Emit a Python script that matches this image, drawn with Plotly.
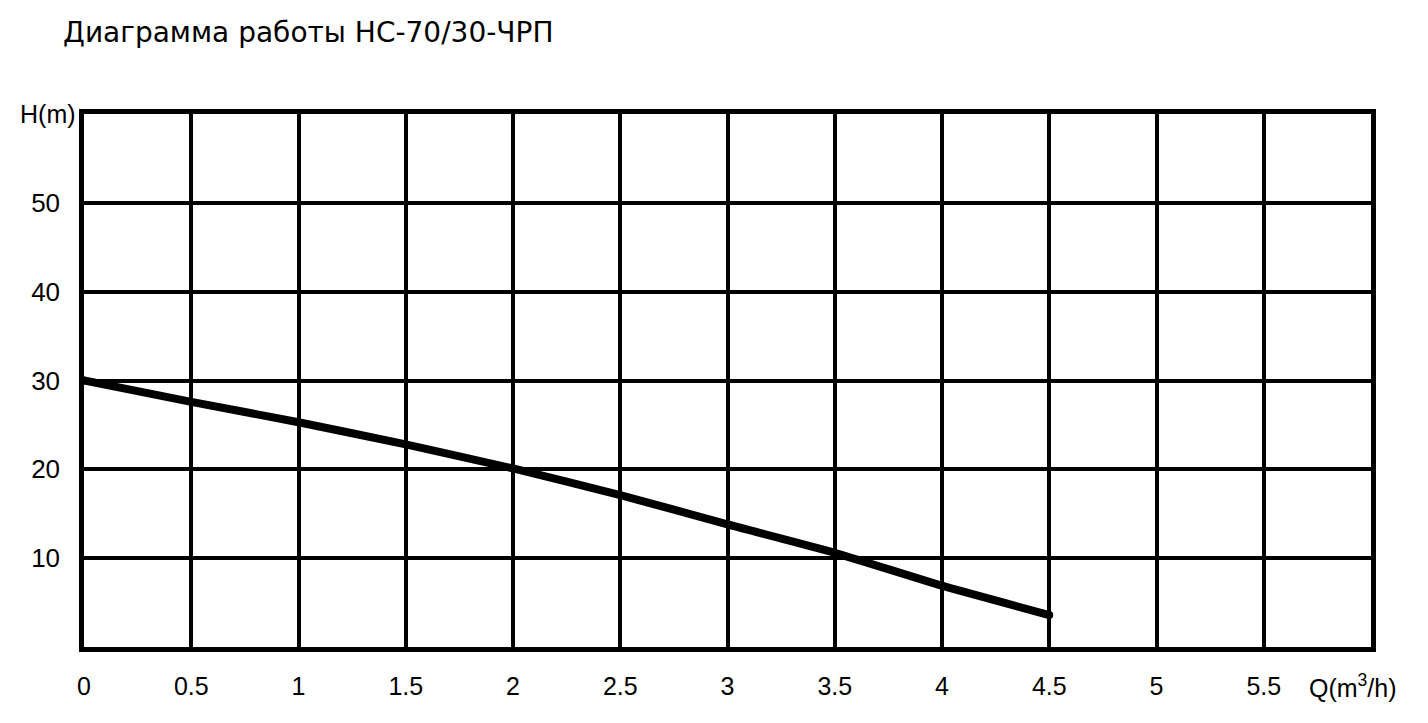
import plotly.graph_objects as go

q_values = [0, 0.5, 1, 1.5, 2, 2.5, 3, 3.5, 4, 4.5]
h_values = [30, 27.6, 25.3, 22.8, 20.1, 17.1, 13.8, 10.6, 6.9, 3.6]

x_tickvals = [0, 0.5, 1, 1.5, 2, 2.5, 3, 3.5, 4, 4.5, 5, 5.5]
x_ticktext = ["0", "0.5", "1", "1.5", "2", "2.5", "3", "3.5", "4", "4.5", "5", "5.5"]
y_tickvals = [10, 20, 30, 40, 50]
y_ticktext = ["10", "20", "30", "40", "50"]

x_label = "Q(m<sup>3</sup>/h)"
y_label = "H(m)"
title_text = "Диаграмма работы НС-70/30-ЧРП"

normal = "Liberation Sans, Arial, sans-serif"

fig = go.Figure()
fig.add_trace(go.Scatter(
    x=q_values, y=h_values, mode="lines",
    line=dict(color="black", width=8, shape="spline", smoothing=0.6),
    hoverinfo="skip", showlegend=False,
))
fig.add_trace(go.Scatter(
    x=[q_values[0], q_values[-1]], y=[h_values[0], h_values[-1]], mode="markers",
    marker=dict(color="black", size=8), hoverinfo="skip", showlegend=False,
))

fig.update_layout(
    width=1428, height=723,
    margin=dict(l=76, r=65, t=106, b=84),
    paper_bgcolor="white", plot_bgcolor="white",
    font=dict(size=20, family=normal, color="black"),
    annotations=[
        dict(text=title_text, xref="paper", yref="paper",
             x=-23 / 1287, y=1 + 81 / 533, xanchor="left", yanchor="middle",
             showarrow=False, font=dict(size=28, family="DejaVu Sans, sans-serif", color="black")),
        dict(text=y_label, xref="paper", yref="y", x=0, y=60,
             xanchor="right", yanchor="middle", xshift=-6, yshift=0,
             showarrow=False, font=dict(size=25, family=normal, color="black")),
        dict(text=x_label, xref="x", yref="paper", x=6, y=0,
             xanchor="center", yanchor="middle", xshift=-18, yshift=-39,
             showarrow=False, font=dict(size=25, family=normal, color="black")),
    ],
)
fig.update_xaxes(
    range=[0, 6], tickvals=x_tickvals, ticktext=x_ticktext,
    showgrid=True, gridcolor="black", gridwidth=3.5,
    showline=True, linecolor="black", linewidth=4.5, mirror=True,
    zeroline=False, ticks="", ticklabelstandoff=13,
    tickfont=dict(size=25, family=normal, color="black"),
)
fig.update_yaxes(
    range=[0, 60], tickvals=[0] + y_tickvals + [60], ticktext=[""] + y_ticktext + [""],
    showgrid=True, gridcolor="black", gridwidth=3.5,
    showline=True, linecolor="black", linewidth=4.5, mirror=True,
    zeroline=False, ticks="", ticklabelstandoff=14,
    tickfont=dict(size=26, family=normal, color="black"),
)

fig.write_html("out.html")
